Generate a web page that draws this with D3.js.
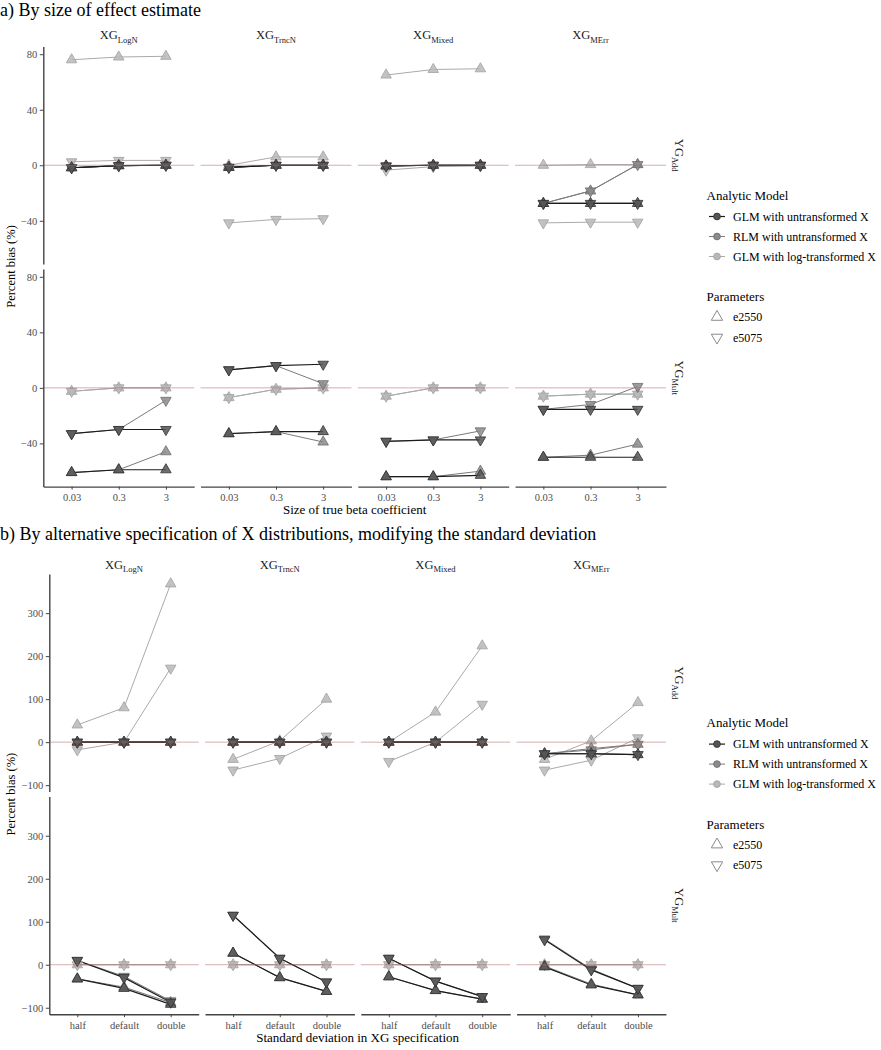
<!DOCTYPE html>
<html><head><meta charset="utf-8">
<script src="https://cdn.jsdelivr.net/npm/d3@7"></script>
<style>body{margin:0;background:#fff}svg{display:block}</style>
</head><body>
<script>
// ---------- categories / labels ----------
const xgLevels = ["LogN", "TrncN", "Mixed", "MErr"];
const ygLevels = ["Add", "Mult"];
const modelNames = ["GLM with untransformed X", "RLM with untransformed X", "GLM with log-transformed X"];
const paramNames = ["e2550", "e5075"];
const betaTicks = ["0.03", "0.3", "3"];
const sdTicks = ["half", "default", "double"];
const yTicksA = [-40, 0, 40, 80];
const yTicksB = [-100, 0, 100, 200, 300];

// ---------- values: each array = XG (LogN, TrncN, Mixed, MErr) x 3 x-levels ----------
// Part a) YG_Add
const aAdd_GLM_e2550 = [-1.8,-0.3,0, -1.5,0,0, -0.5,0,0, -27.5,-27.5,-27.5];
const aAdd_GLM_e5075 = [-1.8,-0.3,0, -1.5,0,0, -0.5,0,0, -27.5,-27.5,-27.5];
const aAdd_RLM_e2550 = [-1.8,-0.3,0, -1.5,0,0, -0.5,0,0, -27.5,-18.5,0.5];
const aAdd_RLM_e5075 = [-1.8,-0.3,0, -1.5,0,0, -0.5,0,0, -27.5,-18.5,0.5];
const aAdd_LOG_e2550 = [76,78,78.5, 0,6,6, 65,69,69.5, 0,0.5,0.5];
const aAdd_LOG_e5075 = [2.5,3.5,3.5, -41.5,-39,-38.5, -3.5,-1,-0.5, -41.5,-41,-41];
// Part a) YG_Mult
const aMult_GLM_e2550 = [-61,-59,-59, -33,-31.5,-31.5, -64,-64,-63, -50,-50,-50];
const aMult_GLM_e5075 = [-33,-30,-30, 13,16,17, -38.5,-37.5,-37.5, -15.5,-15.5,-15.5];
const aMult_RLM_e2550 = [-61,-59,-46, -33,-31.5,-39, -64,-64,-60, -50,-48.5,-40.5];
const aMult_RLM_e5075 = [-33,-30,-9, 13,16,3, -38.5,-37.5,-31, -15.5,-12,1];
const aMult_LOG_e2550 = [-2.5,0,0, -7,-1,0, -6,0,0, -6,-4.5,-4.5];
const aMult_LOG_e5075 = [-2.5,0,0, -7,-1,0, -6,0,0, -6,-4.5,-4.5];
// Part b) YG_Add
const bAdd_GLM_e2550 = [0,0,0, 0,0,0, 0,0,0, -27,-27,-29];
const bAdd_GLM_e5075 = [0,0,0, 0,0,0, 0,0,0, -27,-27,-29];
const bAdd_RLM_e2550 = [0,0,0, 0,0,0, 0,0,0, -27,-15,-5];
const bAdd_RLM_e5075 = [0,0,0, 0,0,0, 0,0,0, -27,-18,-5];
const bAdd_LOG_e2550 = [40,80,368, -40,3,100, 0,70,224, -40,3,92];
const bAdd_LOG_e5075 = [-18,0,172, -65,-38,14, -45,0,88, -65,-42,10];
// Part b) YG_Mult
const bMult_GLM_e2550 = [-33,-55,-92, 27,-30,-62, -28,-60,-80, -5,-47,-70];
const bMult_GLM_e5075 = [10,-30,-87, 115,15,-40, 15,-38,-74, 58,-12,-55];
const bMult_RLM_e2550 = [-33,-52,-88, 27,-30,-62, -28,-60,-80, -3,-45,-70];
const bMult_RLM_e5075 = [10,-27,-84, 115,15,-40, 15,-38,-74, 60,-10,-55];
const bMult_LOG_e2550 = [0,0,0, 0,0,0, 0,0,0, 0,0,0];
const bMult_LOG_e5075 = [0,0,0, 0,0,0, 0,0,0, 0,0,0];

// ---------- build series tables ----------
function mk(yg, model, param, values) { return {yg, model, param, values}; }
const seriesA = [
  mk("Add",0,0,aAdd_GLM_e2550), mk("Add",0,1,aAdd_GLM_e5075),
  mk("Add",1,0,aAdd_RLM_e2550), mk("Add",1,1,aAdd_RLM_e5075),
  mk("Add",2,0,aAdd_LOG_e2550), mk("Add",2,1,aAdd_LOG_e5075),
  mk("Mult",0,0,aMult_GLM_e2550), mk("Mult",0,1,aMult_GLM_e5075),
  mk("Mult",1,0,aMult_RLM_e2550), mk("Mult",1,1,aMult_RLM_e5075),
  mk("Mult",2,0,aMult_LOG_e2550), mk("Mult",2,1,aMult_LOG_e5075)
];
const seriesB = [
  mk("Add",0,0,bAdd_GLM_e2550), mk("Add",0,1,bAdd_GLM_e5075),
  mk("Add",1,0,bAdd_RLM_e2550), mk("Add",1,1,bAdd_RLM_e5075),
  mk("Add",2,0,bAdd_LOG_e2550), mk("Add",2,1,bAdd_LOG_e5075),
  mk("Mult",0,0,bMult_GLM_e2550), mk("Mult",0,1,bMult_GLM_e5075),
  mk("Mult",1,0,bMult_RLM_e2550), mk("Mult",1,1,bMult_RLM_e5075),
  mk("Mult",2,0,bMult_LOG_e2550), mk("Mult",2,1,bMult_LOG_e5075)
];

// ---------- styles ----------
const lineCol = ["#1c1c1c", "#7a7a7a", "#aaaaaa"];
const fillCol = ["#555555", "#8b8b8b", "#b8b8b8"];
const strokeCol = ["#2e2e2e", "#6c6c6c", "#a0a0a0"];
const lineW = [1.2, 1.0, 1.0];
const FONT = "'Liberation Serif','Times New Roman',serif";

const svg = d3.select("body").append("svg")
  .attr("width", 881).attr("height", 1050)
  .attr("font-family", FONT);

const triSize = 48;
const triUp = d3.symbol(d3.symbolTriangle, triSize)();

function subLabel(sel, main, sub, size, subSize) {
  sel.append("tspan").text(main).attr("font-size", size);
  sel.append("tspan").text(sub).attr("font-size", subSize).attr("dy", size * 0.28);
}

function styleAxis(ax) {
  ax.attr("font-family", FONT);
  ax.select(".domain").attr("stroke", "#444").attr("stroke-width", 1.4);
  ax.selectAll(".tick line").attr("stroke", "#444").attr("stroke-width", 1);
  ax.selectAll(".tick text").attr("fill", "#4d4d4d").attr("font-size", 10.5).attr("font-family", FONT);
}

function drawSection(cfg) {
  const all = cfg.series.flatMap(s => s.values);
  const [mn, mx] = d3.extent(all);
  const pad = (mx - mn) * 0.05;
  svg.append("text").attr("x", 0).attr("y", cfg.titleY)
    .attr("font-size", 18).attr("fill", "#000").text(cfg.title);

  const drawOrder = [2, 1, 0];
  ygLevels.forEach((yg, r) => {
    const top = cfg.top + r * (cfg.panelH + cfg.rowGap);
    const y = d3.scaleLinear().domain([mn - pad, mx + pad]).range([top + cfg.panelH, top]);
    xgLevels.forEach((xg, c) => {
      const left = cfg.left + c * (cfg.w + cfg.colGap);
      const x = d3.scalePoint().domain(cfg.ticks).range([left, left + cfg.w]).padding(0.6);
      const g = svg.append("g");
      const ser = cfg.series.filter(s => s.yg === yg)
        .map(s => ({...s, pts: cfg.ticks.map((t, i) => ({t, v: s.values[c * 3 + i]}))}))
        .sort((p, q) => drawOrder.indexOf(p.model) - drawOrder.indexOf(q.model) || p.param - q.param);
      const line = d3.line().x(d => x(d.t)).y(d => y(d.v));
      ser.forEach(s => {
        g.append("path").attr("d", line(s.pts)).attr("fill", "none")
          .attr("stroke", lineCol[s.model]).attr("stroke-width", lineW[s.model]);
      });
      ser.forEach(s => {
        s.pts.forEach(p => {
          g.append("path").attr("d", triUp)
            .attr("transform", `translate(${x(p.t)},${y(p.v)})` + (s.param === 1 ? " rotate(180)" : ""))
            .attr("fill", fillCol[s.model]).attr("fill-opacity", 0.85)
            .attr("stroke", strokeCol[s.model]).attr("stroke-width", 0.8);
        });
      });
      g.append("line").attr("x1", left).attr("x2", left + cfg.w)
        .attr("y1", y(0)).attr("y2", y(0))
        .attr("stroke", "#b26b6b").attr("stroke-opacity", 0.55).attr("stroke-width", 1);

      if (r === 0) {
        const t = svg.append("text").attr("x", left + cfg.w / 2).attr("y", cfg.stripY)
          .attr("text-anchor", "middle").attr("fill", "#1a1a1a");
        subLabel(t, "XG", xg, 12.5, 8.5);
      }
      if (r === 1) {
        const ax = svg.append("g").attr("transform", `translate(0,${top + cfg.panelH})`)
          .call(d3.axisBottom(x).tickSize(3).tickSizeOuter(0).tickPadding(4));
        styleAxis(ax);
      }
      if (c === 0) {
        const ay = svg.append("g").attr("transform", `translate(${left},0)`)
          .call(d3.axisLeft(y).tickValues(cfg.yTicks).tickFormat(d3.format("d")).tickSize(3.5).tickSizeOuter(0).tickPadding(2.5));
        styleAxis(ay);
      }
    });
    const cy = top + cfg.panelH / 2;
    const rt = svg.append("text").attr("transform", `translate(675,${cy}) rotate(90)`)
      .attr("text-anchor", "middle").attr("fill", "#1a1a1a");
    subLabel(rt, "YG", yg, 12.5, 8.5);
  });

  const totalTop = cfg.top, totalBot = cfg.top + 2 * cfg.panelH + cfg.rowGap;
  const midY = (totalTop + totalBot) / 2;
  const right = cfg.left + 4 * cfg.w + 3 * cfg.colGap;
  svg.append("text").attr("transform", `translate(15,${midY}) rotate(-90)`)
    .attr("text-anchor", "middle").attr("font-size", 12.5).attr("fill", "#000").text("Percent bias (%)");
  svg.append("text").attr("x", (cfg.left + right) / 2).attr("y", cfg.xTitleY)
    .attr("text-anchor", "middle").attr("font-size", 13).attr("fill", "#000").text(cfg.xTitle);

  const ly = midY - 71.5;
  const lg = svg.append("g");
  lg.append("text").attr("x", 706.5).attr("y", ly + 4.5).attr("font-size", 13).text("Analytic Model");
  modelNames.forEach((m, i) => {
    const yy = ly + 21.5 + i * 20;
    lg.append("line").attr("x1", 709).attr("x2", 725).attr("y1", yy).attr("y2", yy)
      .attr("stroke", lineCol[i]).attr("stroke-width", lineW[i]);
    lg.append("circle").attr("cx", 717).attr("cy", yy).attr("r", 3.4)
      .attr("fill", fillCol[i]).attr("stroke", strokeCol[i]).attr("stroke-width", 0.8);
    lg.append("text").attr("x", 733).attr("y", yy + 4.3).attr("font-size", 12).text(m);
  });
  lg.append("text").attr("x", 706.5).attr("y", ly + 106).attr("font-size", 13).text("Parameters");
  paramNames.forEach((p, i) => {
    const yy = ly + 122 + i * 20.5;
    lg.append("path").attr("d", d3.symbol(d3.symbolTriangle, 56)())
      .attr("transform", `translate(717,${yy})` + (i === 1 ? " rotate(180)" : ""))
      .attr("fill", "none").attr("stroke", "#8a8a8a").attr("stroke-width", 1);
    lg.append("text").attr("x", 733).attr("y", yy + 4.3).attr("font-size", 12).text(p);
  });
}

drawSection({
  title: "a) By size of effect estimate", titleY: 15.5,
  series: seriesA, ticks: betaTicks, yTicks: yTicksA,
  top: 46.4, panelH: 217.6, rowGap: 5,
  left: 43.3, w: 150.9, colGap: 6.35,
  stripY: 39, xTitle: "Size of true beta coefficient", xTitleY: 514
});
drawSection({
  title: "b) By alternative specification of X distributions, modifying the standard deviation", titleY: 539.5,
  series: seriesB, ticks: sdTicks, yTicks: yTicksB,
  top: 574, panelH: 217.6, rowGap: 5,
  left: 49.3, w: 149.4, colGap: 6.35,
  stripY: 568.5, xTitle: "Standard deviation in XG specification", xTitleY: 1042
});
</script>
</body></html>
